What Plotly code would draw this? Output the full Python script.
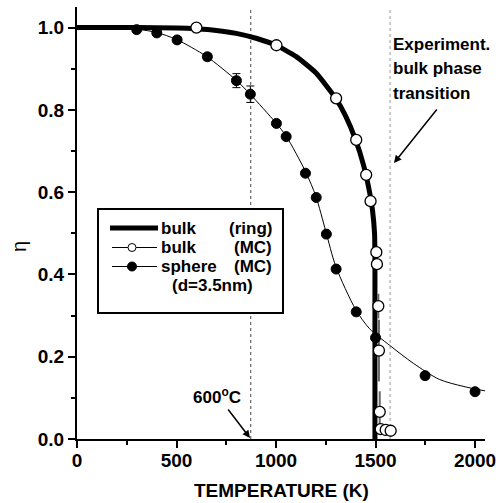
import plotly.graph_objects as go

# ---------------- data ----------------
# bulk (ring) model curve
ring_T = [0, 300, 500, 600, 700, 800, 900, 1000, 1100, 1200, 1300, 1350, 1400, 1440, 1470, 1485, 1495, 1497, 1497]
ring_eta = [1.0, 1.0, 0.999, 0.997, 0.993, 0.986, 0.974, 0.957, 0.930, 0.890, 0.828, 0.785, 0.727, 0.665, 0.600, 0.555, 0.500, 0.440, 0.0]

# bulk (MC) open circles
bulkmc_T = [600, 1002, 1302, 1403, 1453, 1475, 1504, 1507, 1514, 1517, 1521, 1526, 1551, 1576]
bulkmc_eta = [1.0, 0.957, 0.828, 0.727, 0.642, 0.578, 0.454, 0.425, 0.323, 0.215, 0.066, 0.024, 0.022, 0.020]
bulkmc_err = [0, 0, 0, 0, 0, 0, 0, 0, 0.03, 0.075, 0.05, 0, 0, 0]

# sphere (MC) filled circles
sphere_T = [300, 401, 503, 655, 801, 871, 1002, 1051, 1148, 1202, 1253, 1302, 1403, 1500, 1749, 2000]
sphere_eta = [0.995, 0.987, 0.970, 0.929, 0.871, 0.838, 0.767, 0.735, 0.646, 0.587, 0.498, 0.413, 0.309, 0.246, 0.154, 0.115]
sphere_err = [0, 0, 0, 0.008, 0.017, 0.02, 0, 0, 0, 0, 0, 0, 0, 0, 0, 0]

# sphere fit curve
fit_T = [0, 300, 400, 500, 650, 800, 870, 1000, 1050, 1150, 1200, 1250, 1300, 1400, 1470, 1570, 1690, 1820, 1940, 2050]
fit_eta = [1.0, 0.996, 0.988, 0.971, 0.930, 0.872, 0.838, 0.768, 0.737, 0.648, 0.590, 0.505, 0.420, 0.315, 0.268, 0.228, 0.184, 0.145, 0.128, 0.117]

# reference temperatures (600 C and experimental bulk transition)
ref_T = [873, 1573]

x_ticks = [0, 500, 1000, 1500, 2000]
y_ticks = [0.0, 0.2, 0.4, 0.6, 0.8, 1.0]
y_tick_text = ["0.0", "0.2", "0.4", "0.6", "0.8", "1.0"]

# ---------------- figure ----------------
W, H = 498, 503
ML, MR, MT, MB = 77, 13, 7, 64
PW, PH = W - ML - MR, H - MT - MB


def px(x):
    return (x - ML) / PW


def py(y):
    return (H - MB - y) / PH


FONT = "Liberation Sans, Arial, sans-serif"

fig = go.Figure()

fig.add_trace(go.Scatter(x=fit_T, y=fit_eta, mode="lines",
                         line=dict(color="black", width=1, shape="spline", smoothing=0.8),
                         showlegend=False, hoverinfo="skip"))
fig.add_trace(go.Scatter(x=ring_T, y=ring_eta, mode="lines",
                         line=dict(color="black", width=5, shape="spline", smoothing=0.5),
                         showlegend=False))
fig.add_trace(go.Scatter(x=bulkmc_T, y=bulkmc_eta, mode="markers",
                         marker=dict(symbol="circle", size=11, color="white",
                                     line=dict(color="black", width=1.3)),
                         error_y=dict(type="data", array=bulkmc_err, visible=True,
                                      color="#666666", thickness=2, width=0),
                         showlegend=False))
fig.add_trace(go.Scatter(x=sphere_T, y=sphere_eta, mode="markers",
                         marker=dict(symbol="circle", size=10, color="black",
                                     line=dict(color="black", width=1)),
                         error_y=dict(type="data", array=sphere_err, visible=True,
                                      color="black", thickness=1, width=4),
                         showlegend=False))

shapes = []
# vertical reference lines
shapes.append(dict(type="line", xref="x", yref="paper", x0=ref_T[0], x1=ref_T[0], y0=0, y1=1,
                   line=dict(color="#444444", width=1, dash="dot"), layer="below"))
shapes.append(dict(type="line", xref="x", yref="paper", x0=ref_T[1], x1=ref_T[1], y0=0, y1=1,
                   line=dict(color="#999999", width=1, dash="dot"), layer="below"))

# manual legend box
shapes.append(dict(type="rect", xref="paper", yref="paper",
                   x0=px(98), x1=px(283), y0=py(313), y1=py(209),
                   line=dict(color="black", width=2), fillcolor="white", layer="above"))
# row 1: thick line
shapes.append(dict(type="line", xref="paper", yref="paper", x0=px(110), x1=px(158),
                   y0=py(228), y1=py(228), line=dict(color="black", width=5)))
# row 2: thin line + open circle
shapes.append(dict(type="line", xref="paper", yref="paper", x0=px(112), x1=px(157),
                   y0=py(247.5), y1=py(247.5), line=dict(color="black", width=1)))
shapes.append(dict(type="circle", xref="paper", yref="paper", xsizemode="pixel", ysizemode="pixel",
                   xanchor=px(132), yanchor=py(247.5), x0=-4, x1=4, y0=-4, y1=4,
                   line=dict(color="black", width=1), fillcolor="white"))
# row 3: thin line + filled circle
shapes.append(dict(type="line", xref="paper", yref="paper", x0=px(112), x1=px(157),
                   y0=py(266.5), y1=py(266.5), line=dict(color="black", width=1)))
shapes.append(dict(type="circle", xref="paper", yref="paper", xsizemode="pixel", ysizemode="pixel",
                   xanchor=px(132), yanchor=py(266.5), x0=-4.5, x1=4.5, y0=-4.5, y1=4.5,
                   line=dict(color="black", width=1), fillcolor="black"))

ann = []
lf = dict(family=FONT, size=17, color="black", weight="bold")


def txt(x, y, s, xa="left", font=lf, angle=0):
    ann.append(dict(xref="paper", yref="paper", x=px(x), y=py(y), text=s, showarrow=False,
                    xanchor=xa, yanchor="middle", font=font, textangle=angle))


txt(159, 228, "bulk")
txt(274, 228, "(ring)", "right")
txt(159, 247.5, "bulk")
txt(274, 247.5, "(MC)", "right")
txt(159, 266.5, "sphere")
txt(274, 266.5, "(MC)", "right")
txt(170, 285.5, "(d=3.5nm)")

# Experiment annotation (three lines)
txt(391, 45, "Experiment.")
txt(391, 69, "bulk phase")
txt(391, 93, "transition")
ann.append(dict(xref="paper", yref="paper", x=px(394), y=py(163), ax=44, ay=-55, text="",
                showarrow=True, arrowhead=2, arrowsize=1, arrowwidth=1.5, arrowcolor="black",
                standoff=0, startstandoff=0))
# 600 C annotation
ann.append(dict(xref="paper", yref="paper", x=px(217), y=py(396), xanchor="center", yanchor="middle",
                showarrow=False, text="600<sup>o</sup>C",
                font=dict(family=FONT, size=17, color="black", weight="bold")))
ann.append(dict(xref="paper", yref="paper", x=px(250), y=py(438), ax=-23, ay=-30, text="",
                showarrow=True, arrowhead=2, arrowsize=1, arrowwidth=1.5, arrowcolor="black",
                standoff=0, startstandoff=0))

axis_font = dict(family=FONT, size=19, color="black", weight="bold")

# axis titles
txt(281, 490, "TEMPERATURE (K)", "center", axis_font)
txt(19, 247, "η", "center", dict(family=FONT, size=20, color="black"), -90)

fig.update_layout(
    width=W, height=H,
    margin=dict(l=ML, r=MR, t=MT, b=MB, pad=0),
    paper_bgcolor="white", plot_bgcolor="white",
    font=dict(family=FONT, color="black"),
    showlegend=False,
    shapes=shapes, annotations=ann,
    xaxis=dict(range=[0, 2050], tickvals=x_ticks, showgrid=False, zeroline=False,
               showline=True, linecolor="black", linewidth=2, mirror=False, automargin=False,
               ticks="outside", ticklen=7, tickwidth=2, tickcolor="black", ticklabelstandoff=-4,
               minor=dict(dtick=250, ticks="outside", ticklen=4, tickwidth=2, tickcolor="black"),
               tickfont=axis_font),
    yaxis=dict(range=[0, 1.05], tickvals=y_ticks, ticktext=y_tick_text, showgrid=False, zeroline=False,
               showline=True, linecolor="black", linewidth=2, mirror=False, automargin=False,
               ticks="outside", ticklen=7, tickwidth=2, tickcolor="black",
               minor=dict(dtick=0.1, ticks="outside", ticklen=4, tickwidth=2, tickcolor="black"),
               tickfont=axis_font),
)

fig.write_html("out.html", config={"displayModeBar": False},
               post_script="document.body.style.margin='0';document.body.style.overflow='hidden';")
